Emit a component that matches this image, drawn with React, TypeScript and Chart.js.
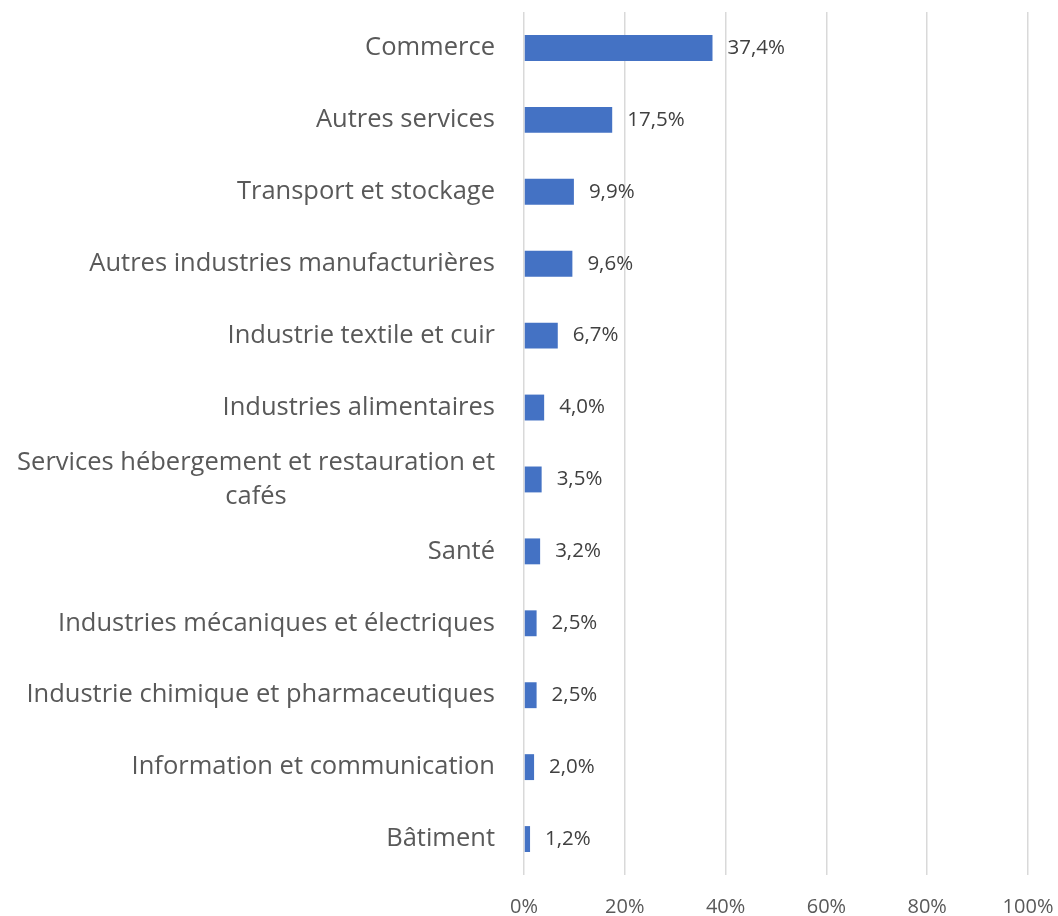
import React, { useEffect, useRef } from "react";
import { Chart, registerables } from "chart.js";

Chart.register(...registerables);

const categories: string[][] = [
  ["Commerce"],
  ["Autres services"],
  ["Transport et stockage"],
  ["Autres industries manufacturières"],
  ["Industrie textile et cuir"],
  ["Industries alimentaires"],
  ["Services hébergement et restauration et", "cafés"],
  ["Santé"],
  ["Industries mécaniques et électriques"],
  ["Industrie chimique et pharmaceutiques"],
  ["Information et communication"],
  ["Bâtiment"],
];
const values: number[] = [37.4, 17.5, 9.9, 9.6, 6.7, 4.0, 3.5, 3.2, 2.5, 2.5, 2.0, 1.2];
const valueLabels: string[] = ["37,4%", "17,5%", "9,9%", "9,6%", "6,7%", "4,0%", "3,5%", "3,2%", "2,5%", "2,5%", "2,0%", "1,2%"];
const xTicks: number[] = [0, 20, 40, 60, 80, 100];

const FONT = "'Open Sans', 'Noto Sans', sans-serif";

const labelsPlugin = {
  id: "customLabels",
  afterDraw(chart: any) {
    const ctx = chart.ctx;
    const y = chart.scales.y;
    const meta = chart.getDatasetMeta(0);
    ctx.save();
    ctx.font = `25.5px ${FONT}`;
    ctx.fillStyle = "#595959";
    ctx.textBaseline = "middle";
    ctx.textAlign = "center";
    const rightEdge = chart.chartArea.left - 29;
    const lineH = 34;
    categories.forEach((lines, i) => {
      const cy = y.getPixelForTick(i);
      const maxW = Math.max(...lines.map((l) => ctx.measureText(l).width));
      const cx = rightEdge - maxW / 2;
      const start = cy - ((lines.length - 1) * lineH) / 2;
      lines.forEach((l, j) => ctx.fillText(l, cx, start + j * lineH));
    });
    ctx.font = `20.5px ${FONT}`;
    ctx.fillStyle = "#404040";
    ctx.textAlign = "left";
    meta.data.forEach((bar: any, i: number) => {
      ctx.fillText(valueLabels[i], bar.x + 15, bar.y);
    });
    ctx.restore();
  },
};

export default function App() {
  const ref = useRef<HTMLCanvasElement>(null);
  useEffect(() => {
    if (!ref.current) return;
    const chart = new Chart(ref.current, {
      type: "bar",
      data: {
        labels: categories.map((c) => c.join(" ")),
        datasets: [
          {
            data: values,
            backgroundColor: "#4472C4",
            barPercentage: 0.36,
            categoryPercentage: 1,
          },
        ],
      },
      options: {
        indexAxis: "y",
        animation: false,
        responsive: false,
        maintainAspectRatio: false,
        layout: { padding: { top: 12, right: 0, left: 0, bottom: 0 } },
        plugins: { legend: { display: false }, tooltip: { enabled: false } },
        scales: {
          x: {
            min: 0,
            max: 100,
            afterBuildTicks: (scale: any) => {
              scale.ticks = xTicks.map((v) => ({ value: v }));
            },
            afterFit: (scale: any) => {
              scale.height = 41;
              scale.paddingRight = 30;
              scale.paddingLeft = 0;
            },
            grid: { color: "#d9d9d9", lineWidth: 1.5, drawTicks: false },
            border: { display: false },
            ticks: {
              color: "#595959",
              font: { size: 20, family: FONT },
              padding: 20,
              callback: (v: any) => `${v}%`,
            },
          },
          y: {
            afterFit: (scale: any) => {
              scale.width = 524;
            },
            grid: { display: false },
            border: { display: false },
            ticks: { display: false },
          },
        },
      },
      plugins: [labelsPlugin],
    });
    return () => chart.destroy();
  }, []);
  return (
    <div style={{ position: "absolute", left: 0, top: 0, width: 1058, height: 916, background: "#fff" }}>
      <canvas ref={ref} width={1058} height={916} style={{ display: "block" }} />
    </div>
  );
}
